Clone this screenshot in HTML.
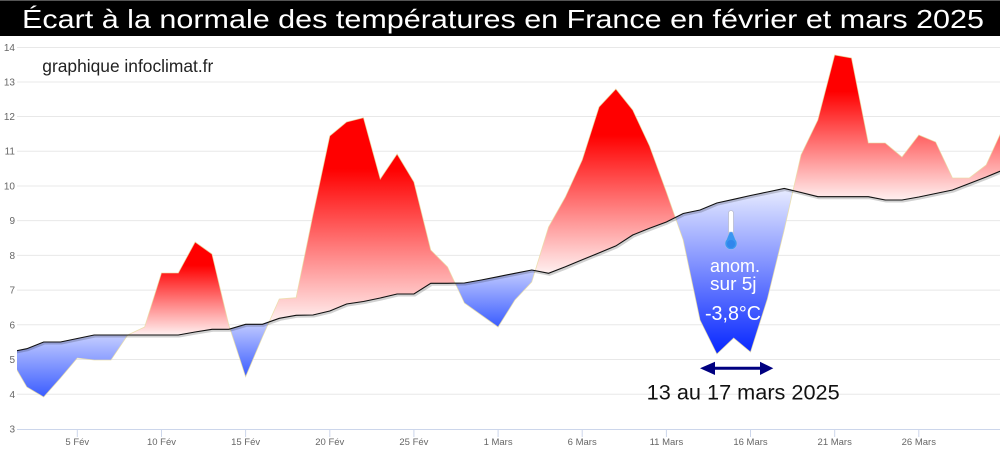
<!DOCTYPE html>
<html><head><meta charset="utf-8"><style>
html,body{margin:0;padding:0;background:#fff;}
svg{display:block;}
text{font-family:"Liberation Sans",Arial,sans-serif;}
</style></head><body>
<svg width="1000" height="461" viewBox="0 0 1000 461" xmlns="http://www.w3.org/2000/svg">
<defs>
<linearGradient id="rg" x1="0" y1="0" x2="0" y2="1">
<stop offset="0" stop-color="#ff0000"/>
<stop offset="0.25" stop-color="#ff0000"/>
<stop offset="1" stop-color="#fff0f0"/>
</linearGradient>
<linearGradient id="bg" x1="0" y1="0" x2="0" y2="1">
<stop offset="0" stop-color="#e8ecff"/>
<stop offset="1" stop-color="#0626ff"/>
</linearGradient>
<linearGradient id="bs" x1="0" y1="0" x2="0" y2="1">
<stop offset="0" stop-color="#c4cdff"/>
<stop offset="1" stop-color="#3a5cff"/>
</linearGradient>
<clipPath id="plot"><rect x="17" y="38" width="983" height="391"/></clipPath>
</defs>
<rect x="0" y="0" width="1000" height="461" fill="#fff"/>
<!-- title bar -->
<rect x="0" y="0" width="1000" height="36" fill="#000"/>
<rect x="0" y="0" width="1000" height="1" fill="#555"/>
<text x="22" y="28" font-size="26" fill="#fff" textLength="962" lengthAdjust="spacingAndGlyphs">Écart à la normale des températures en France en février et mars 2025</text>

<!-- grid -->
<g stroke="#e8e8e8" stroke-width="1">
<line x1="17" x2="1000" y1="47.5" y2="47.5"/>
<line x1="17" x2="1000" y1="82" y2="82"/>
<line x1="17" x2="1000" y1="116.5" y2="116.5"/>
<line x1="17" x2="1000" y1="151.2" y2="151.2"/>
<line x1="17" x2="1000" y1="186" y2="186"/>
<line x1="17" x2="1000" y1="220.6" y2="220.6"/>
<line x1="17" x2="1000" y1="255.4" y2="255.4"/>
<line x1="17" x2="1000" y1="290.1" y2="290.1"/>
<line x1="17" x2="1000" y1="324.8" y2="324.8"/>
<line x1="17" x2="1000" y1="359.5" y2="359.5"/>
<line x1="17" x2="1000" y1="394.3" y2="394.3"/>
</g>
<!-- y labels -->
<g font-size="10" fill="#666" text-anchor="end">
<text x="15" y="51">14</text>
<text x="15" y="85.5">13</text>
<text x="15" y="120">12</text>
<text x="15" y="154.7">11</text>
<text x="15" y="189.5">10</text>
<text x="15" y="224.1">9</text>
<text x="15" y="258.9">8</text>
<text x="15" y="293.6">7</text>
<text x="15" y="328.3">6</text>
<text x="15" y="363">5</text>
<text x="15" y="397.8">4</text>
<text x="15" y="432.5">3</text>
</g>

<g clip-path="url(#plot)">
<!-- A blue -->
<polygon fill="url(#bs)" points="10,358 26.83,387 43.66,397 60.49,378 77.32,358 94.15,360 110.98,360 127.81,335 110.98,335 94.15,335 77.32,338.5 60.49,342 43.66,342 26.83,348.7 10,352"/>
<!-- B red -->
<polygon fill="url(#rg)" points="127.81,335 144.64,327 161.47,273 178.3,273 195.13,242 211.96,254 228.79,325 230.1,328.9 228.79,329.3 211.96,329.3 195.13,332 178.3,335 161.47,335 144.64,335"/>
<!-- C blue -->
<polygon fill="url(#bs)" points="230.1,328.9 245.62,376.7 262.45,337 269.1,321.9 262.45,324.3 245.62,324.3"/>
<!-- D red -->
<polygon fill="url(#rg)" points="269.1,321.9 279.28,299 296.11,297.7 312.94,215 329.77,136 346.6,122 363.43,117.7 380.26,179 397.09,154 413.92,182 430.75,250 447.58,267 455.1,283.2 447.58,283.3 430.75,283.3 413.92,294 397.09,294 380.26,298 363.43,301.5 346.6,304 329.77,311 312.94,315 296.11,315.3 279.28,318.3"/>
<!-- E blue -->
<polygon fill="url(#bs)" points="455.1,283.2 464.41,303 481.24,315 498.07,327 514.9,300 531.73,282 535.2,270.7 531.73,270 514.9,273.3 498.07,276.7 481.24,280 464.41,283"/>
<!-- F red -->
<polygon fill="url(#rg)" points="535.2,270.7 548.56,227 565.39,197 582.22,160 599.05,107 615.88,89 632.71,110 649.54,146 666.37,192 675.3,217.5 666.37,222 649.54,228.3 632.71,235 615.88,245.9 599.05,252.9 582.22,259.8 565.39,266.8 548.56,273.3"/>
<!-- G blue -->
<polygon fill="url(#bg)" points="675.3,217.5 683.2,240 700.03,320 716.86,354 733.69,338 750.52,352 767.35,299 784.18,230 793,190.6 784.18,188.5 767.35,192 750.52,195.5 733.69,199.3 716.86,203 700.03,210 683.2,213.5"/>
<!-- H red -->
<polygon fill="url(#rg)" points="793,190.6 801.01,155 817.84,120 834.67,55 851.5,58 868.33,143 885.16,143 901.99,157 918.82,135 935.65,142 952.48,178 969.31,178 986.14,165 1002.97,128 1002.97,170 986.14,177 969.31,183.5 952.48,190 935.65,193.5 918.82,197 901.99,200 885.16,200 868.33,196.7 851.5,196.7 834.67,196.7 817.84,196.7 801.01,192.5"/>
<!-- temperature faint line -->
<polyline fill="none" stroke="#e9dca0" stroke-width="0.8" stroke-opacity="0.8" points="10,358 26.83,387 43.66,397 60.49,378 77.32,358 94.15,360 110.98,360 127.81,335 144.64,327 161.47,273 178.3,273 195.13,242 211.96,254 228.79,325 245.62,376.7 262.45,337 279.28,299 296.11,297.7 312.94,215 329.77,136 346.6,122 363.43,117.7 380.26,179 397.09,154 413.92,182 430.75,250 447.58,267 464.41,303 481.24,315 498.07,327 514.9,300 531.73,282 548.56,227 565.39,197 582.22,160 599.05,107 615.88,89 632.71,110 649.54,146 666.37,192 683.2,240 700.03,320 716.86,354 733.69,338 750.52,352 767.35,299 784.18,230 801.01,155 817.84,120 834.67,55 851.5,58 868.33,143 885.16,143 901.99,157 918.82,135 935.65,142 952.48,178 969.31,178 986.14,165 1002.97,128"/>
<!-- normal line -->
<polyline fill="none" stroke="#000" stroke-opacity="0.18" stroke-width="3" transform="translate(1,1)" points="10,352 26.83,348.7 43.66,342 60.49,342 77.32,338.5 94.15,335 110.98,335 127.81,335 144.64,335 161.47,335 178.3,335 195.13,332 211.96,329.3 228.79,329.3 245.62,324.3 262.45,324.3 279.28,318.3 296.11,315.3 312.94,315 329.77,311 346.6,304 363.43,301.5 380.26,298 397.09,294 413.92,294 430.75,283.3 447.58,283.3 464.41,283 481.24,280 498.07,276.7 514.9,273.3 531.73,270 548.56,273.3 565.39,266.8 582.22,259.8 599.05,252.9 615.88,245.9 632.71,235 649.54,228.3 666.37,222 683.2,213.5 700.03,210 716.86,203 733.69,199.3 750.52,195.5 767.35,192 784.18,188.5 801.01,192.5 817.84,196.7 834.67,196.7 851.5,196.7 868.33,196.7 885.16,200 901.99,200 918.82,197 935.65,193.5 952.48,190 969.31,183.5 986.14,177 1002.97,170"/>
<polyline fill="none" stroke="#111" stroke-width="1.1" points="10,352 26.83,348.7 43.66,342 60.49,342 77.32,338.5 94.15,335 110.98,335 127.81,335 144.64,335 161.47,335 178.3,335 195.13,332 211.96,329.3 228.79,329.3 245.62,324.3 262.45,324.3 279.28,318.3 296.11,315.3 312.94,315 329.77,311 346.6,304 363.43,301.5 380.26,298 397.09,294 413.92,294 430.75,283.3 447.58,283.3 464.41,283 481.24,280 498.07,276.7 514.9,273.3 531.73,270 548.56,273.3 565.39,266.8 582.22,259.8 599.05,252.9 615.88,245.9 632.71,235 649.54,228.3 666.37,222 683.2,213.5 700.03,210 716.86,203 733.69,199.3 750.52,195.5 767.35,192 784.18,188.5 801.01,192.5 817.84,196.7 834.67,196.7 851.5,196.7 868.33,196.7 885.16,200 901.99,200 918.82,197 935.65,193.5 952.48,190 969.31,183.5 986.14,177 1002.97,170"/>
</g>

<!-- x axis -->
<line x1="17" x2="1000" y1="429.5" y2="429.5" stroke="#ccd6eb" stroke-width="1"/>
<g stroke="#ccd6eb" stroke-width="1">
<line x1="77.3" x2="77.3" y1="430" y2="437"/>
<line x1="161.5" x2="161.5" y1="430" y2="437"/>
<line x1="245.6" x2="245.6" y1="430" y2="437"/>
<line x1="329.8" x2="329.8" y1="430" y2="437"/>
<line x1="413.9" x2="413.9" y1="430" y2="437"/>
<line x1="498.1" x2="498.1" y1="430" y2="437"/>
<line x1="582.2" x2="582.2" y1="430" y2="437"/>
<line x1="666.4" x2="666.4" y1="430" y2="437"/>
<line x1="750.5" x2="750.5" y1="430" y2="437"/>
<line x1="834.7" x2="834.7" y1="430" y2="437"/>
<line x1="918.8" x2="918.8" y1="430" y2="437"/>
</g>
<g font-size="9.5" fill="#666" text-anchor="middle">
<text x="77.3" y="445">5 Fév</text>
<text x="161.5" y="445">10 Fév</text>
<text x="245.6" y="445">15 Fév</text>
<text x="329.8" y="445">20 Fév</text>
<text x="413.9" y="445">25 Fév</text>
<text x="498.1" y="445">1 Mars</text>
<text x="582.2" y="445">6 Mars</text>
<text x="666.4" y="445">11 Mars</text>
<text x="750.5" y="445">16 Mars</text>
<text x="834.7" y="445">21 Mars</text>
<text x="918.8" y="445">26 Mars</text>
</g>

<!-- watermark -->
<text x="42.3" y="72" font-size="17.4" fill="#222" textLength="171" lengthAdjust="spacingAndGlyphs">graphique infoclimat.fr</text>

<!-- thermometer -->
<rect x="728.5" y="210.5" width="5" height="30" rx="2.5" fill="#fff" stroke="#b8bcd0" stroke-width="0.8"/>
<path d="M729.6,232 L732.4,232 L735.5,239.5 A6,6 0 1 1 726.5,239.5 Z" fill="#3a96f2" stroke="#9fb8ee" stroke-width="0.6"/>
<circle cx="731" cy="244" r="4" fill="#2a7ce8" opacity="0.6"/>

<!-- annotation texts -->
<text x="710" y="272" font-size="18" fill="#fff" textLength="50" lengthAdjust="spacingAndGlyphs">anom.</text>
<text x="710" y="290" font-size="18" fill="#fff" textLength="46.5" lengthAdjust="spacingAndGlyphs">sur 5j</text>
<text x="705" y="320" font-size="20" fill="#fff" textLength="56" lengthAdjust="spacingAndGlyphs">-3,8°C</text>

<!-- arrow -->
<line x1="713" x2="762" y1="368.3" y2="368.3" stroke="#000080" stroke-width="3"/>
<polygon points="700,368.3 715,361.7 715,375" fill="#000080"/>
<polygon points="773.3,368.3 760,361.7 760,375" fill="#000080"/>

<text x="646.7" y="399.5" font-size="21" fill="#111" textLength="193" lengthAdjust="spacingAndGlyphs">13 au 17 mars 2025</text>
</svg>
</body></html>
